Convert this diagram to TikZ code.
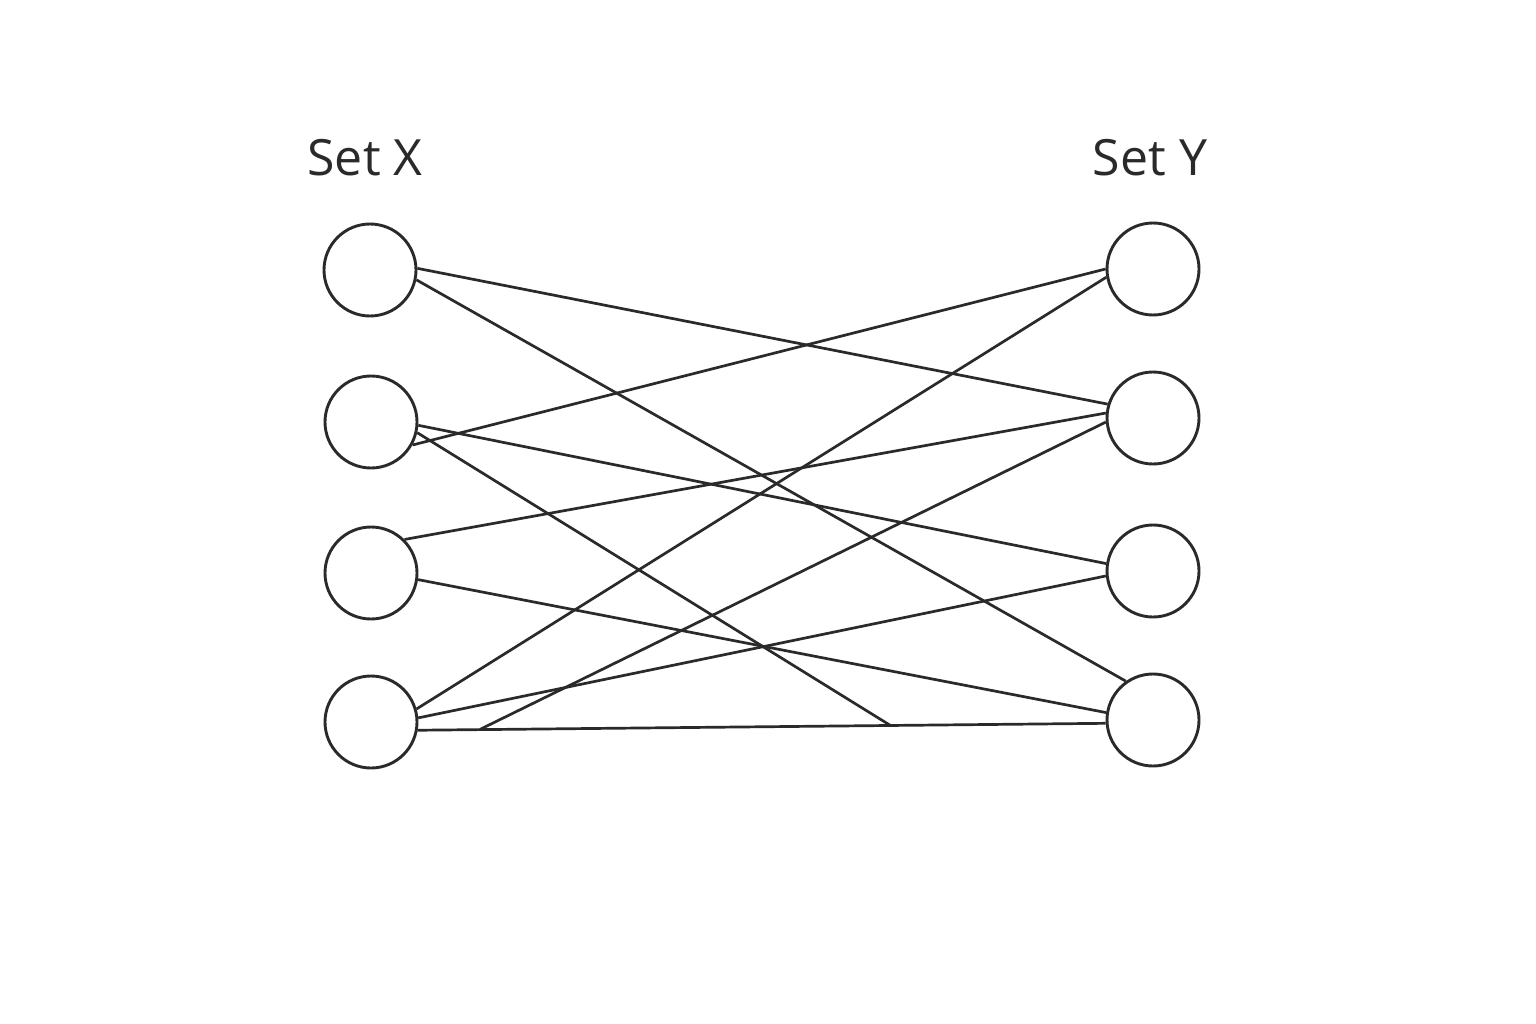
\documentclass[tikz,border=0pt]{standalone}
\usepackage{fontspec}
\setmainfont{Open Sans}
\begin{document}
\begin{tikzpicture}[x=1pt,y=-1pt,
  vert/.style={draw=linec,circle,minimum size=92pt,inner sep=0pt,line width=2.9pt},
  edge/.style={draw=linec,line width=2.7pt},
  setlabel/.style={anchor=base,font=\fontsize{50}{60}\selectfont,text=linec,inner sep=0pt}]
\definecolor{linec}{HTML}{2A2A2A}
\useasboundingbox[fill=white] (0,0) rectangle (1536,1024);
\node[setlabel] (lx) at (365,176) {Set X};
\node[setlabel] (ly) at (1150,176) {Set Y};
\node[vert] (X1) at (370,270) {};
\node[vert] (X2) at (371,422) {};
\node[vert] (X3) at (371,573) {};
\node[vert] (X4) at (371,722) {};
\node[vert] (Y1) at (1153,269) {};
\node[vert] (Y2) at (1153,418) {};
\node[vert] (Y3) at (1153,571) {};
\node[vert] (Y4) at (1153,720) {};
\coordinate (J1) at (890,725.2);
\coordinate (J2) at (480,729.4);
% edges
\draw[edge] (X1.2.5) -- (Y2.163.5);
\draw[edge] (X1.-12.5) -- (Y4.125);
\draw[edge] (X2.-29) -- (Y1.180);
\draw[edge] (X2.-4) -- (Y3.171);
\draw[edge] (X2.-13) -- (J1);
\draw[edge] (X3.45) -- (Y2.174);
\draw[edge] (X3.-8.5) -- (Y4.171);
\draw[edge] (X4.16) -- (Y1.190);
\draw[edge] (X4.5) -- (Y3.186);
\draw[edge] (X4.-10) -- (Y4.184);
\draw[edge] (J2) -- (Y2.185);
\end{tikzpicture}
\end{document}
